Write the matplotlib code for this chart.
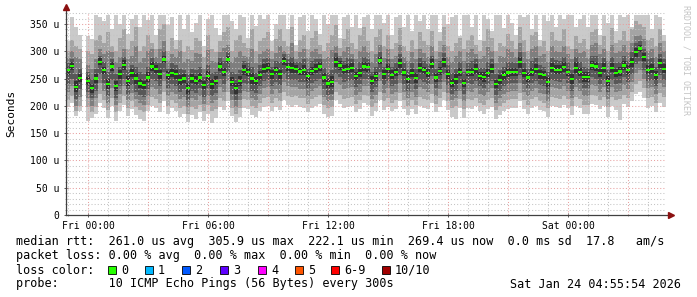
import matplotlib
matplotlib.use("Agg")
import matplotlib.pyplot as plt
from matplotlib.patches import Rectangle
import numpy as np

plt.rcParams['font.family'] = ['DejaVu Sans Mono']

nan = np.nan
W, H = 697, 297

# time axis: hours relative to Fri 00:00, 12 minute steps starting Thu 22:54
t_start = -1.1
step_h = 0.2

# median rtt per step (microseconds)
median_us = [
    265, 273, 235, 251, nan, 245, 232, 250, 281, 265,
    240, 272, 236, 258, 275, 245, 260, 250, 241, 238,
    252, 272, 268, 258, 285, 256, 260, 258, 247, 250,
    232, 250, 246, 252, 238, 255, 240, 246, 272, 262,
    285, 244, 232, 245, 265, 262, 250, 245, 256, 268,
    270, 258, 265, 258, 282, 271, 270, 268, 263, 265,
    254, 264, 268, 272, 252, 241, 244, 281, 274, 266,
    268, 270, 255, 260, 272, 271, 246, 254, 283, 258,
    268, 257, 262, 278, 261, 249, 260, 251, 270, 265,
    260, 277, 252, 264, 280, 258, 242, 249, 262, 242,
    262, 262, 267, 255, 253, 260, 268, 240, 248, 256,
    261, 262, 262, 280, 260, 252, 262, 268, 258, 256,
    243, 270, 266, 266, 271, 262, 249, 270, 262, 253,
    253, 274, 272, 260, 270, 246, 270, 260, 263, 274,
    265, 280, 298, 305, 289, 266, 268, 256, 278, 268,
]

# sorted pings per step, p1 = fastest ... p10 = slowest (microseconds)
p1 = [
    198, 205, 182, 190, nan, 172, 178, 186, 205, 196,
    178, 200, 172, 190, 202, 182, 195, 184, 176, 172,
    190, 200, 196, 188, 208, 185, 196, 190, 180, 185,
    170, 184, 176, 188, 172, 186, 168, 178, 198, 192,
    208, 182, 170, 180, 196, 194, 184, 180, 190, 198,
    200, 190, 198, 192, 210, 202, 198, 202, 198, 196,
    188, 196, 200, 204, 186, 180, 182, 210, 204, 196,
    198, 200, 188, 194, 205, 202, 182, 190, 210, 192,
    198, 190, 194, 208, 194, 184, 194, 186, 200, 196,
    194, 206, 188, 198, 210, 192, 180, 176, 196, 178,
    196, 194, 200, 190, 186, 194, 198, 176, 184, 190,
    194, 196, 196, 208, 194, 186, 196, 200, 192, 190,
    180, 200, 198, 196, 202, 196, 184, 200, 196, 186,
    186, 204, 202, 194, 200, 180, 200, 192, 174, 204,
    198, 208, 222, 226, 214, 196, 200, 188, 206, 198,
]
p2 = [
    210, 218, 190, 200, nan, 198, 188, 198, 222, 210,
    192, 215, 188, 205, 218, 196, 208, 198, 192, 188,
    202, 216, 212, 205, 226, 200, 210, 205, 196, 200,
    185, 198, 194, 202, 190, 202, 190, 195, 215, 208,
    226, 196, 186, 196, 212, 210, 200, 196, 206, 214,
    216, 206, 214, 208, 226, 218, 216, 218, 214, 214,
    204, 212, 216, 220, 202, 196, 198, 226, 220, 212,
    214, 216, 204, 210, 220, 218, 198, 206, 226, 208,
    214, 206, 210, 224, 210, 200, 210, 202, 216, 212,
    210, 222, 204, 214, 226, 208, 196, 200, 212, 194,
    212, 210, 215, 206, 202, 210, 214, 192, 200, 206,
    210, 212, 212, 224, 210, 202, 212, 216, 208, 206,
    196, 216, 214, 212, 218, 212, 200, 216, 212, 202,
    202, 220, 218, 210, 216, 198, 216, 210, 212, 220,
    214, 226, 240, 246, 232, 214, 216, 206, 224, 216,
]
p3 = [
    226, 236, 200, 216, nan, 214, 200, 214, 242, 228,
    205, 232, 202, 222, 236, 210, 224, 212, 206, 202,
    218, 234, 230, 222, 246, 218, 226, 222, 212, 216,
    198, 214, 210, 218, 204, 218, 205, 210, 234, 226,
    246, 210, 198, 210, 228, 226, 214, 210, 222, 232,
    234, 222, 230, 224, 244, 236, 234, 234, 230, 230,
    218, 228, 232, 236, 216, 208, 210, 244, 238, 230,
    232, 234, 220, 226, 236, 236, 212, 220, 246, 224,
    232, 222, 226, 242, 226, 214, 226, 216, 234, 230,
    226, 240, 218, 230, 244, 224, 210, 215, 228, 208,
    228, 226, 232, 222, 218, 226, 232, 206, 214, 222,
    226, 228, 228, 242, 226, 218, 228, 232, 224, 222,
    208, 234, 232, 230, 236, 228, 214, 234, 228, 218,
    218, 238, 236, 226, 234, 212, 234, 226, 228, 238,
    230, 244, 260, 266, 250, 232, 234, 222, 242, 234,
]
p4 = [
    240, 250, 212, 230, nan, 226, 214, 228, 258, 242,
    218, 248, 214, 236, 250, 222, 238, 226, 220, 216,
    230, 250, 246, 236, 262, 232, 240, 236, 225, 230,
    210, 228, 224, 232, 216, 232, 218, 224, 250, 240,
    262, 222, 210, 224, 242, 240, 228, 224, 236, 246,
    248, 236, 244, 238, 258, 250, 248, 248, 244, 244,
    232, 242, 246, 250, 230, 220, 222, 258, 252, 244,
    246, 248, 234, 240, 250, 250, 226, 234, 262, 238,
    246, 236, 240, 256, 240, 228, 240, 230, 248, 244,
    240, 254, 232, 244, 258, 238, 222, 228, 242, 222,
    242, 240, 245, 236, 232, 240, 246, 220, 228, 236,
    240, 242, 242, 256, 240, 232, 242, 246, 238, 236,
    222, 248, 245, 244, 250, 242, 228, 248, 242, 232,
    232, 252, 250, 240, 248, 226, 248, 240, 242, 252,
    244, 258, 276, 282, 266, 246, 248, 236, 256, 248,
]
p5 = [
    256, 266, 226, 244, nan, 238, 224, 242, 274, 258,
    230, 264, 228, 250, 266, 236, 252, 240, 232, 230,
    244, 264, 260, 250, 278, 248, 252, 250, 238, 242,
    222, 242, 238, 244, 230, 246, 230, 238, 264, 254,
    278, 236, 222, 236, 256, 254, 240, 238, 248, 260,
    262, 250, 258, 250, 274, 264, 260, 261, 256, 256,
    246, 256, 260, 264, 244, 232, 234, 272, 266, 258,
    260, 262, 248, 252, 264, 262, 238, 246, 276, 250,
    260, 249, 254, 270, 254, 242, 252, 242, 262, 258,
    252, 269, 244, 256, 272, 250, 234, 240, 254, 234,
    254, 254, 258, 248, 244, 252, 260, 232, 240, 248,
    252, 254, 254, 270, 252, 244, 254, 260, 250, 248,
    234, 262, 258, 258, 262, 254, 240, 260, 254, 244,
    244, 266, 264, 252, 262, 237, 262, 252, 254, 266,
    256, 272, 290, 298, 282, 258, 260, 248, 270, 260,
]
p6 = [
    272, 280, 245, 258, nan, 252, 240, 258, 288, 272,
    250, 280, 245, 265, 284, 254, 268, 260, 250, 246,
    262, 280, 275, 266, 292, 264, 268, 266, 256, 258,
    242, 258, 255, 260, 246, 264, 250, 254, 280, 270,
    292, 252, 242, 255, 274, 270, 260, 252, 264, 276,
    278, 265, 272, 266, 290, 278, 280, 275, 270, 274,
    262, 272, 276, 280, 260, 250, 254, 290, 282, 274,
    276, 278, 262, 268, 280, 280, 254, 262, 290, 266,
    276, 265, 270, 286, 268, 256, 268, 260, 278, 272,
    268, 285, 260, 272, 288, 266, 250, 258, 270, 250,
    270, 270, 276, 262, 262, 268, 276, 248, 256, 264,
    270, 270, 270, 290, 268, 260, 270, 276, 266, 264,
    252, 278, 274, 274, 280, 270, 258, 280, 270, 262,
    262, 282, 280, 268, 278, 255, 278, 268, 272, 282,
    274, 288, 306, 312, 296, 274, 276, 264, 286, 276,
]
p7 = [
    278, 285, 258, 268, nan, 262, 250, 268, 292, 280,
    262, 285, 258, 272, 290, 265, 275, 272, 262, 258,
    272, 288, 280, 278, 300, 270, 278, 275, 268, 266,
    258, 268, 265, 272, 252, 275, 260, 262, 288, 282,
    298, 262, 258, 265, 282, 278, 272, 260, 275, 285,
    288, 272, 282, 280, 295, 286, 290, 280, 280, 285,
    270, 282, 285, 285, 270, 260, 265, 296, 288, 282,
    288, 285, 270, 280, 290, 286, 262, 272, 298, 272,
    285, 272, 278, 295, 278, 265, 278, 268, 288, 282,
    276, 292, 268, 282, 296, 275, 260, 268, 280, 262,
    278, 282, 285, 270, 270, 280, 285, 258, 266, 272,
    280, 280, 278, 298, 278, 268, 282, 288, 275, 272,
    262, 288, 284, 282, 290, 280, 266, 290, 280, 272,
    270, 292, 292, 278, 288, 265, 290, 278, 280, 292,
    282, 298, 315, 318, 305, 285, 288, 272, 295, 285,
]
p8 = [
    288, 300, 290, 285, nan, 275, 268, 285, 305, 295,
    300, 298, 280, 290, 305, 285, 292, 310, 280, 288,
    300, 305, 290, 305, 318, 282, 295, 290, 300, 280,
    285, 282, 296, 295, 268, 302, 282, 280, 298, 306,
    312, 280, 290, 300, 292, 290, 305, 278, 295, 300,
    305, 285, 296, 310, 300, 295, 315, 285, 298, 305,
    288, 300, 305, 295, 285, 290, 302, 310, 292, 300,
    308, 295, 285, 300, 310, 298, 280, 295, 312, 288,
    305, 285, 292, 312, 290, 282, 298, 285, 305, 296,
    290, 310, 285, 298, 312, 290, 280, 292, 300, 282,
    298, 305, 295, 285, 292, 308, 300, 278, 292, 290,
    305, 298, 290, 315, 298, 285, 305, 310, 292, 295,
    280, 310, 300, 298, 310, 295, 285, 305, 296, 300,
    288, 312, 315, 295, 305, 282, 312, 296, 300, 312,
    298, 315, 328, 330, 322, 300, 305, 290, 315, 300,
]
p9 = [
    300, 320, 310, 305, nan, 300, 295, 320, 330, 315,
    335, 310, 300, 325, 340, 305, 318, 345, 300, 310,
    330, 315, 305, 340, 350, 300, 325, 305, 320, 298,
    310, 302, 325, 318, 290, 330, 305, 298, 318, 335,
    345, 300, 320, 330, 315, 306, 340, 300, 318, 325,
    335, 300, 322, 340, 318, 310, 345, 300, 320, 330,
    305, 325, 338, 312, 300, 315, 330, 348, 306, 322,
    340, 315, 305, 330, 345, 318, 300, 326, 340, 310,
    330, 305, 315, 342, 310, 300, 320, 305, 335, 318,
    312, 338, 300, 318, 345, 310, 300, 315, 325, 305,
    320, 330, 312, 300, 318, 340, 325, 300, 315, 310,
    332, 318, 305, 345, 320, 300, 330, 335, 310, 318,
    300, 335, 320, 318, 340, 310, 305, 328, 315, 322,
    305, 335, 340, 312, 328, 300, 342, 316, 320, 338,
    318, 340, 355, 350, 345, 320, 325, 310, 340, 318,
]
p10 = [
    318, 362, 345, 330, nan, 328, 322, 366, 362, 355,
    366, 340, 366, 350, 366, 332, 360, 366, 345, 366,
    358, 366, 330, 366, 366, 348, 362, 320, 366, 340,
    366, 335, 352, 366, 310, 360, 366, 342, 330, 366,
    366, 355, 340, 366, 362, 325, 366, 346, 366, 360,
    366, 318, 350, 366, 366, 340, 366, 312, 362, 366,
    338, 366, 360, 332, 366, 350, 366, 366, 325, 362,
    366, 345, 366, 342, 362, 366, 340, 366, 366, 352,
    366, 330, 362, 366, 345, 366, 338, 366, 355, 366,
    340, 366, 366, 335, 366, 350, 362, 366, 328, 366,
    366, 345, 366, 320, 366, 360, 338, 366, 366, 342,
    366, 352, 330, 366, 362, 366, 340, 366, 320, 366,
    355, 366, 345, 366, 360, 366, 366, 345, 360, 366,
    345, 366, 366, 330, 366, 352, 366, 338, 366, 362,
    366, 345, 366, 366, 366, 366, 340, 366, 362, 330,
]

smoke_colors = ['#cacaca', '#a4a4a4', '#7e7e7e', '#585858', '#323232']

y_ticks = [0, 50, 100, 150, 200, 250, 300, 350]
y_tick_labels = ['0', '50 u', '100 u', '150 u', '200 u', '250 u', '300 u', '350 u']
x_ticks = [0, 6, 12, 18, 24]
x_tick_labels = ['Fri 00:00', 'Fri 06:00', 'Fri 12:00', 'Fri 18:00', 'Sat 00:00']

legend_lines = [
    'median rtt:  261.0 us avg  305.9 us max  222.1 us min  269.4 us now  0.0 ms sd  17.8   am/s',
    'packet loss: 0.00 % avg  0.00 % max  0.00 % min  0.00 % now',
]
loss_labels = ['0', '1', '2', '3', '4', '5', '6-9', '10/10']
loss_colors = ['#26ff00', '#00b8ff', '#0059ff', '#5e00ff', '#ff00ff', '#ff5500', '#ff0000', '#a10000']
probe_text = 'probe:       10 ICMP Echo Pings (56 Bytes) every 300s'
stamp_text = 'Sat Jan 24 04:55:54 2026'

fig = plt.figure(figsize=(W / 100, H / 100), dpi=100)
fig.patch.set_facecolor('white')
ax = fig.add_axes([66 / W, (H - 215) / H, 600 / W, 203 / H])
ax.set_xlim(-1.1, 28.9)
ax.set_ylim(0, 372)

t_left = t_start + step_h * np.arange(len(median_us))
pings = np.array([p1, p2, p3, p4, p5, p6, p7, p8, p9, p10], dtype=float)
for k in range(5):
    lo = pings[k]
    hi = pings[9 - k]
    ax.bar(t_left, hi - lo, bottom=lo, width=step_h, align='edge',
           color=smoke_colors[k], linewidth=0, antialiased=False, zorder=2)

med = np.array(median_us, dtype=float)
ax.bar(t_left, 4, bottom=med - 2, width=step_h, align='edge',
       color='#26ff00', linewidth=0, antialiased=False, zorder=5)

# rrdtool style dotted grid, drawn over the smoke
for v in range(10, 371, 10):
    c = '#e8a0a0' if v % 50 == 0 else '#c4c4c4'
    ax.axhline(v, color=c, lw=0.75, ls=(0, (1, 2)), zorder=3)
for h in range(-1, 29):
    c = '#e8a0a0' if h % 3 == 0 else '#c4c4c4'
    ax.axvline(h, color=c, lw=0.75, ls=(0, (1, 2)), zorder=3)

for s in ax.spines.values():
    s.set_visible(False)
ax.plot([0, 0], [0, 1.015], transform=ax.transAxes, color='#404040', lw=0.9, clip_on=False, zorder=6)
ax.plot([0, 1.006], [0, 0], transform=ax.transAxes, color='#404040', lw=0.9, clip_on=False, zorder=6)
ax.plot(0, 1.025, marker='^', ms=4, color='#8b1010', transform=ax.transAxes, clip_on=False, zorder=7)
ax.plot(1.008, 0, marker='>', ms=4, color='#8b1010', transform=ax.transAxes, clip_on=False, zorder=7)

ax.set_yticks(y_ticks)
ax.set_yticklabels(y_tick_labels)
ax.set_yticks(range(0, 371, 10), minor=True)
ax.set_xticks(x_ticks)
ax.set_xticklabels(x_tick_labels)
ax.set_xticks(range(-1, 29), minor=True)
ax.tick_params(axis='both', which='major', direction='inout', length=3, width=0.6,
               color='#404040', labelsize=7)
ax.tick_params(axis='both', which='minor', direction='inout', length=1.5, width=0.5, color='#808080')
ax.tick_params(axis='y', pad=3.5)
ax.tick_params(axis='x', pad=2.5)

fig.text(11 / W, 1 - 113 / H, 'Seconds', rotation=90, ha='center', va='center', fontsize=8)
fig.text(686 / W, 1 - 5 / H, 'RRDTOOL / TOBI OETIKER', rotation=270, ha='center', va='top',
         fontsize=6, color='#c4c4c4')

fig.text(16 / W, 1 - 241 / H, legend_lines[0], ha='left', va='center', fontsize=8.5)
fig.text(16 / W, 1 - 256 / H, legend_lines[1], ha='left', va='center', fontsize=8.5)
fig.text(16 / W, 1 - 270 / H, 'loss color:', ha='left', va='center', fontsize=8.5)
box_x = [108, 145, 182, 220, 258, 295, 331, 382]
for bx, lab, col in zip(box_x, loss_labels, loss_colors):
    fig.add_artist(Rectangle((bx / W, 1 - 274 / H), 8 / W, 8 / H, transform=fig.transFigure,
                             facecolor=col, edgecolor='black', linewidth=0.6))
    fig.text((bx + 13) / W, 1 - 270 / H, lab, ha='left', va='center', fontsize=8.5)
fig.text(16 / W, 1 - 284 / H, probe_text, ha='left', va='center', fontsize=8.5)
fig.text(681 / W, 1 - 284 / H, stamp_text, ha='right', va='center', fontsize=8.5)

fig.savefig('out.png', dpi=100)
